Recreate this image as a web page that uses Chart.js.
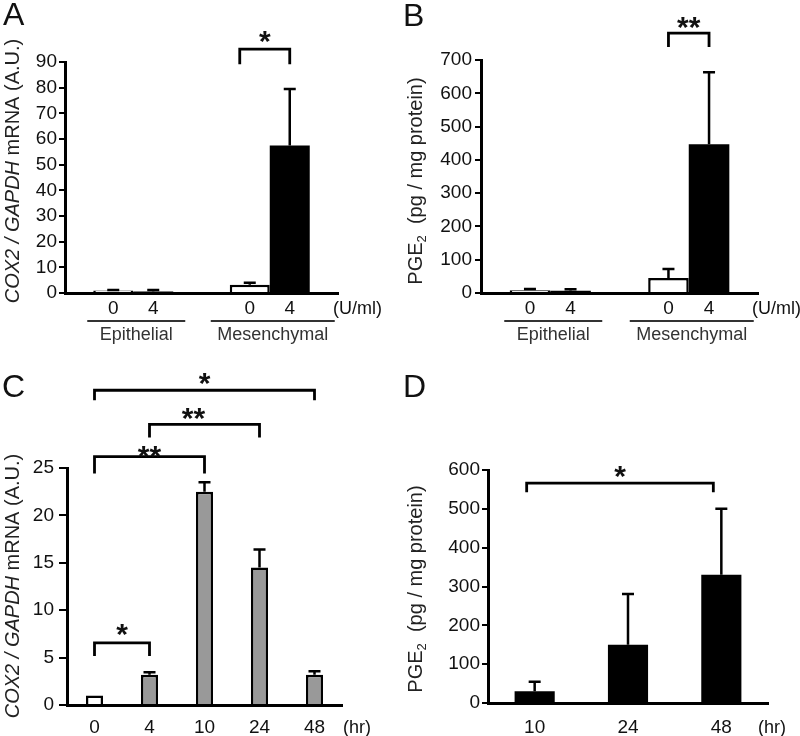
<!DOCTYPE html>
<html><head><meta charset="utf-8">
<script src="https://cdn.jsdelivr.net/npm/chart.js@4"></script>
<style>
html,body{margin:0;padding:0;background:#fff}
#wrap{position:relative;width:800px;height:736px;background:#fff}
canvas{position:absolute}
</style>
</head><body>
<div id="wrap">
<canvas id="cA" width="400" height="368" style="left:0;top:0"></canvas>
<canvas id="cB" width="400" height="368" style="left:400px;top:0"></canvas>
<canvas id="cC" width="400" height="368" style="left:0;top:368px"></canvas>
<canvas id="cD" width="400" height="368" style="left:400px;top:368px"></canvas>
</div>
<script>
// ---------- data ----------
const groupsAB = ['Epithelial', 'Mesenchymal'];
const dosesAB = ['0', '4'];
const doseUnit = '(U/ml)';
const A_ctrl = [1.0, 3.2];
const A_ctrlSD = [0.2, 0.8];
const A_trt = [0.6, 57.5];
const A_trtSD = [0.6, 22];
const A_yTicks = [0, 10, 20, 30, 40, 50, 60, 70, 80, 90];
const B_ctrl = [8, 45];
const B_ctrlSD = [4, 27];
const B_trt = [7, 447];
const B_trtSD = [4, 216];
const B_yTicks = [0, 100, 200, 300, 400, 500, 600, 700];
const C_times = ['0', '4', '10', '24', '48'];
const C_vals = [1.0, 3.2, 22.5, 14.5, 3.2];
const C_sd = [0, 0.25, 1.0, 1.9, 0.35];
const C_yTicks = [0, 5, 10, 15, 20, 25];
const D_times = ['10', '24', '48'];
const D_vals = [30, 150, 330];
const D_sd = [25, 131, 170];
const D_yTicks = [0, 100, 200, 300, 400, 500, 600];
const timeUnit = '(hr)';
// significance brackets: [dataset, index] pairs, level in data units
const A_sig = [{a: [0, 1], b: [1, 1], level: 95, label: '*'}];
const B_sig = [{a: [0, 1], b: [1, 1], level: 781, label: '**'}];
const C_sig = [
  {a: [0, 0], b: [0, 4], level: 33.2, label: '*'},
  {a: [0, 1], b: [0, 3], level: 29.6, label: '**'},
  {a: [0, 0], b: [0, 2], level: 26.2, label: '**'},
  {a: [0, 0], b: [0, 1], level: 6.55, label: '*'}
];
const D_sig = [{a: [0, 0], b: [0, 2], level: 566, label: '*'}];

// ---------- styles ----------
const FAM = "'Liberation Sans', Arial, sans-serif";
const TXT = '#111';
Chart.defaults.font.family = FAM;
Chart.defaults.color = TXT;

function richTitle(ctx, segs, baseX, cy) {
  ctx.save();
  ctx.translate(baseX, cy);
  ctx.rotate(-Math.PI / 2);
  let total = 0;
  segs.forEach(s => { ctx.font = s.font; s.w = ctx.measureText(s.t).width; total += s.w; });
  let x = -total / 2;
  ctx.textAlign = 'left'; ctx.textBaseline = 'alphabetic'; ctx.fillStyle = '#222';
  segs.forEach(s => { ctx.font = s.font; ctx.fillText(s.t, x, s.dy || 0); x += s.w; });
  ctx.restore();
}

function panelPlugin(p) {
  return {
    id: 'panel' + p.letter,
    afterDraw(chart) {
      const ctx = chart.ctx, ca = chart.chartArea, ys = chart.scales.y, xs = chart.scales.x;
      ctx.save();
      ctx.fillStyle = TXT; ctx.strokeStyle = '#000';
      ctx.lineJoin = 'miter'; ctx.lineCap = 'butt';
      // panel letter
      ctx.font = '32px ' + FAM; ctx.textAlign = 'left'; ctx.textBaseline = 'alphabetic';
      ctx.fillText(p.letter, p.letterX, p.letterY);
      // error bars (upper only)
      p.errors.forEach(([di, sd]) => {
        const meta = chart.getDatasetMeta(di);
        meta.data.forEach((el, i) => {
          if (!sd[i]) return;
          const v = chart.data.datasets[di].data[i];
          const yTop = ys.getPixelForValue(v + sd[i]);
          ctx.lineWidth = 2.5;
          ctx.beginPath();
          ctx.moveTo(el.x, el.y); ctx.lineTo(el.x, yTop);
          ctx.moveTo(el.x - p.cap, yTop); ctx.lineTo(el.x + p.cap, yTop);
          ctx.stroke();
        });
      });
      // brackets
      p.brackets.forEach(b => {
        const x1 = chart.getDatasetMeta(b.a[0]).data[b.a[1]].x + (b.dx1 || 0);
        const x2 = chart.getDatasetMeta(b.b[0]).data[b.b[1]].x + (b.dx2 || 0);
        const y = ys.getPixelForValue(b.level);
        ctx.lineWidth = 2.8;
        ctx.beginPath();
        ctx.moveTo(x1, y + b.leg); ctx.lineTo(x1, y); ctx.lineTo(x2, y); ctx.lineTo(x2, y + b.leg);
        ctx.stroke();
        ctx.font = 'bold 30px ' + FAM; ctx.textAlign = 'center'; ctx.textBaseline = 'alphabetic';
        ctx.fillText(b.label, (x1 + x2) / 2 + (b.sx || 0), y + (b.sy != null ? b.sy : 3));
      });
      // x labels
      ctx.font = '19px ' + FAM; ctx.textAlign = 'center'; ctx.textBaseline = 'middle';
      if (p.doses) {
        chart.data.datasets.forEach((ds, di) => {
          chart.getDatasetMeta(di).data.forEach(el => ctx.fillText(p.doses[di], el.x, p.doseY));
        });
        chart.data.labels.forEach((g, i) => {
          const cx = xs.getPixelForValue(i) + 3;
          const hw = p.lineHalf[i];
          ctx.strokeStyle = '#333'; ctx.lineWidth = 2;
          ctx.beginPath(); ctx.moveTo(cx - hw, p.lineY); ctx.lineTo(cx + hw, p.lineY); ctx.stroke();
          ctx.fillStyle = '#333';
          ctx.font = '18px ' + FAM;
          ctx.fillText(g, cx, p.groupY);
          ctx.fillStyle = TXT;
          ctx.font = '19px ' + FAM;
        });
      } else {
        chart.data.labels.forEach((l, i) => ctx.fillText(l, xs.getPixelForValue(i), p.tickY));
      }
      ctx.textAlign = 'left';
      ctx.font = '18px ' + FAM;
      ctx.fillText(p.unit, ca.right + p.unitDx, p.unitY);
      ctx.restore();
      richTitle(ctx, p.title, p.titleX, p.titleCY);
    }
  };
}

function yScale(ticks, w, tl, pad) {
  return {
    min: ticks[0], max: ticks[ticks.length - 1],
    afterBuildTicks: s => { s.ticks = ticks.map(v => ({value: v})); },
    afterFit: s => { s.width = w; },
    ticks: {font: {size: 19}, color: TXT, padding: pad, autoSkip: false},
    grid: {display: true, drawOnChartArea: false, drawTicks: true, tickLength: tl, color: '#000', lineWidth: 2},
    border: {display: true, color: '#000', width: 3}
  };
}
function xScale(h) {
  return {
    afterFit: s => { s.height = h; },
    ticks: {display: false},
    grid: {display: false},
    border: {display: true, color: '#000', width: 3}
  };
}
const baseOpts = (pad, ys, xs) => ({
  responsive: false, animation: false,
  layout: {padding: pad},
  plugins: {legend: {display: false}, tooltip: {enabled: false}},
  scales: {x: xs, y: ys}
});

const titleCOX = [
  {t: 'COX2 / GAPDH', font: 'italic 20px ' + FAM},
  {t: ' mRNA (A.U.)', font: '20px ' + FAM}
];
const titlePGE = [
  {t: 'PGE', font: '20px ' + FAM},
  {t: '2', font: '13px ' + FAM, dy: 4},
  {t: '  (pg / mg protein)', font: '20px ' + FAM}
];

// ---------- A ----------
new Chart(document.getElementById('cA'), {
  type: 'bar',
  data: {
    labels: groupsAB,
    datasets: [
      {data: A_ctrl, backgroundColor: '#fff', borderColor: '#000', borderWidth: 2.5, categoryPercentage: 0.586, barPercentage: 1},
      {data: A_trt, backgroundColor: '#000', borderColor: '#000', borderWidth: 0, categoryPercentage: 0.586, barPercentage: 1}
    ]
  },
  options: baseOpts({top: 62, right: 62, left: 0, bottom: 0}, yScale(A_yTicks, 65, 6, 2), xScale(75)),
  plugins: [panelPlugin({
    letter: 'A', letterX: 3, letterY: 25, cap: 6,
    errors: [[0, A_ctrlSD], [1, A_trtSD]],
    brackets: A_sig.map(b => Object.assign({leg: 15, dx1: -10, sy: 2}, b)),
    doses: dosesAB, doseY: 309, lineY: 321, groupY: 335, lineHalf: [49, 62],
    unit: doseUnit, unitDx: -5, unitY: 309,
    title: titleCOX, titleX: 19, titleCY: 171
  })]
});

// ---------- B ----------
new Chart(document.getElementById('cB'), {
  type: 'bar',
  data: {
    labels: groupsAB,
    datasets: [
      {data: B_ctrl, backgroundColor: '#fff', borderColor: '#000', borderWidth: 2.5, categoryPercentage: 0.586, barPercentage: 1},
      {data: B_trt, backgroundColor: '#000', borderColor: '#000', borderWidth: 0, categoryPercentage: 0.586, barPercentage: 1}
    ]
  },
  options: baseOpts({top: 60, right: 42, left: 0, bottom: 0}, yScale(B_yTicks, 81, 6, 3), xScale(75)),
  plugins: [panelPlugin({
    letter: 'B', letterX: 3, letterY: 26, cap: 6,
    errors: [[0, B_ctrlSD], [1, B_trtSD]],
    brackets: B_sig.map(b => Object.assign({leg: 14, sy: 4}, b)),
    doses: dosesAB, doseY: 309, lineY: 321, groupY: 335, lineHalf: [49, 62],
    unit: doseUnit, unitDx: -6, unitY: 309,
    title: titlePGE, titleX: 22, titleCY: 181
  })]
});

// ---------- C ----------
new Chart(document.getElementById('cC'), {
  type: 'bar',
  data: {
    labels: C_times,
    datasets: [
      {data: C_vals, backgroundColor: ['#fff', '#999', '#999', '#999', '#999'], borderColor: '#000', borderWidth: 2.5, categoryPercentage: 0.31, barPercentage: 1}
    ]
  },
  options: baseOpts({top: 100, right: 58, left: 0, bottom: 0}, yScale(C_yTicks, 67, 8, 5), xScale(31)),
  plugins: [panelPlugin({
    letter: 'C', letterX: 2, letterY: 29, cap: 6,
    errors: [[0, C_sd]],
    brackets: [
      Object.assign({leg: 10, sy: 3}, C_sig[0]),
      Object.assign({leg: 13, sx: -11, sy: 4}, C_sig[1]),
      Object.assign({leg: 17, sy: 9}, C_sig[2]),
      Object.assign({leg: 13, sy: 1}, C_sig[3])
    ],
    tickY: 360,
    unit: timeUnit, unitDx: 1, unitY: 360,
    title: titleCOX, titleX: 19, titleCY: 218
  })]
});

// ---------- D ----------
new Chart(document.getElementById('cD'), {
  type: 'bar',
  data: {
    labels: D_times,
    datasets: [
      {data: D_vals, backgroundColor: '#000', borderColor: '#000', borderWidth: 0, categoryPercentage: 0.43, barPercentage: 1}
    ]
  },
  options: baseOpts({top: 102, right: 32, left: 0, bottom: 0}, yScale(D_yTicks, 88, 6, 2), xScale(33)),
  plugins: [panelPlugin({
    letter: 'D', letterX: 3, letterY: 29, cap: 6,
    errors: [[0, D_sd]],
    brackets: D_sig.map(b => Object.assign({leg: 9, dx1: -8, dx2: -8, sy: 3}, b)),
    tickY: 360,
    unit: timeUnit, unitDx: -10, unitY: 360,
    title: titlePGE, titleX: 22, titleCY: 221
  })]
});
</script>
</body></html>
